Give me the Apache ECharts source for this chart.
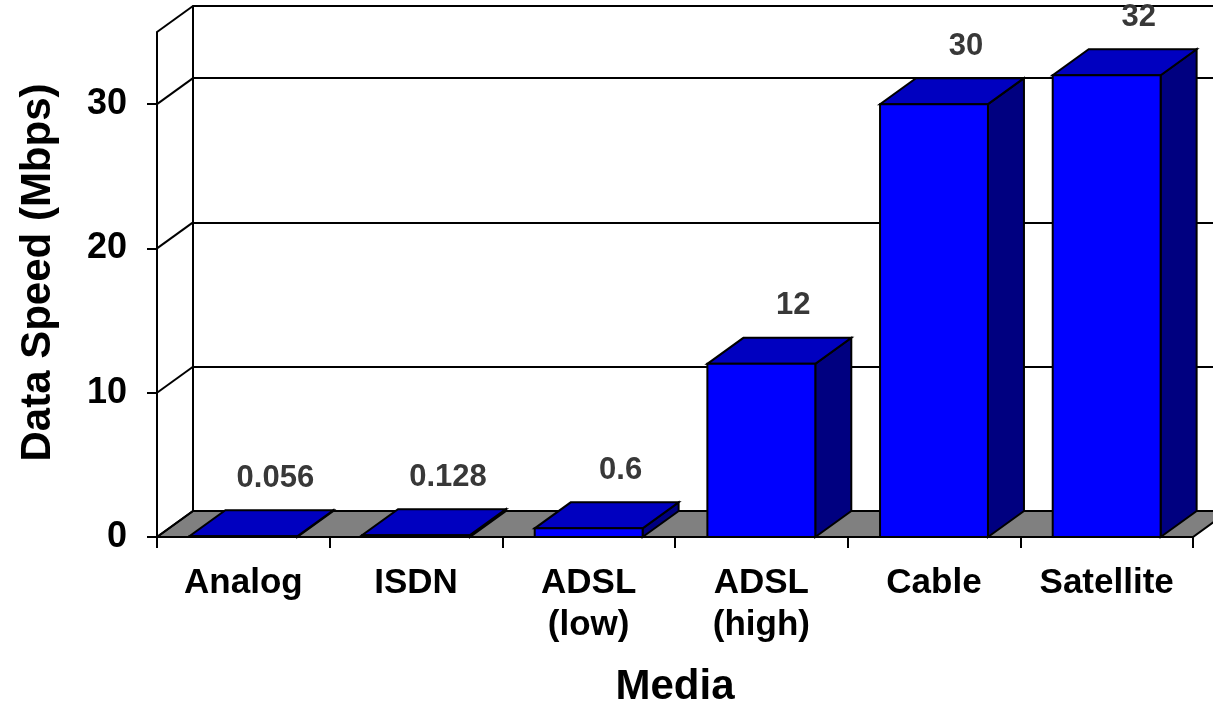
<!DOCTYPE html>
<html>
<head>
<meta charset="utf-8">
<title>Data Speed by Media</title>
<script src="https://cdn.jsdelivr.net/npm/echarts@6/dist/echarts.min.js"></script>
<style>
  html, body { margin: 0; padding: 0; background: #ffffff; }
  #chart { width: 1213px; height: 701px; }
</style>
</head>
<body>
<div id="chart"></div>
<script>
// Data
const categories = ['Analog', 'ISDN', 'ADSL\n(low)', 'ADSL\n(high)', 'Cable', 'Satellite'];
const speeds = [0.056, 0.128, 0.6, 12, 30, 32];
const yTicks = [0, 10, 20, 30];
const yMax = 35;
const yStep = 10;

// Styling constants
const FONT = '"Liberation Sans", Arial, Helvetica, sans-serif';
const DX = 36;    // horizontal depth offset of the 3D box
const DY = -26;   // vertical depth offset of the 3D box
const LINE_W = 2;
const CHART_W = 1213, CHART_H = 701;
const G = { left: 157, top: 32, right: 20, bottom: 164 };
const plotW = CHART_W - G.left - G.right;
const plotH = CHART_H - G.top - G.bottom;

// Floor and left side wall of the 3D box
function renderFrame(params, api) {
  const cs = params.coordSys;
  const L = cs.x, R = cs.x + cs.width;
  const y0 = api.coord([0, 0])[1];
  const children = [{
    type: 'polygon',
    shape: { points: [[L, y0], [R, y0], [R + DX, y0 + DY], [L + DX, y0 + DY]] },
    style: { fill: '#808080', stroke: '#000', lineWidth: LINE_W, lineJoin: 'miter' }
  }];
  yTicks.concat([yMax]).forEach(function (v) {
    const y = api.coord([0, v])[1];
    children.push({
      type: 'line',
      shape: { x1: L, y1: y, x2: L + DX, y2: y + DY },
      style: { stroke: '#000', lineWidth: LINE_W }
    });
  });
  return { type: 'group', children: children };
}

// One 3D bar: side face, top face, front face and value label
function renderBar(params, api) {
  const i = api.value(0), v = api.value(1);
  const base = api.coord([i, 0]);
  const top = api.coord([i, v]);
  const w = api.size([1, 0])[0] * 0.625;
  const x0 = base[0] - w / 2, x1 = base[0] + w / 2;
  const yb = base[1], yt = top[1];
  const edge = { stroke: '#000', lineWidth: LINE_W, lineJoin: 'miter' };
  return {
    type: 'group',
    children: [
      { type: 'polygon',
        shape: { points: [[x1, yb], [x1 + DX, yb + DY], [x1 + DX, yt + DY], [x1, yt]] },
        style: Object.assign({ fill: '#000080' }, edge) },
      { type: 'polygon',
        shape: { points: [[x0, yt], [x1, yt], [x1 + DX, yt + DY], [x0 + DX, yt + DY]] },
        style: Object.assign({ fill: '#0000C0' }, edge) },
      { type: 'rect',
        shape: { x: x0, y: yt, width: w, height: Math.max(yb - yt, 0.5) },
        style: Object.assign({ fill: '#0000FF' }, edge) },
      { type: 'text',
        x: base[0] + 32, y: yt - 58,
        style: {
          text: String(v), align: 'center', verticalAlign: 'middle',
          font: 'bold 31px ' + FONT, fill: '#383838'
        } }
    ]
  };
}

const chart = echarts.init(document.getElementById('chart'), null, { renderer: 'canvas' });

chart.setOption({
  animation: false,
  backgroundColor: '#ffffff',
  grid: [
    { left: G.left, top: G.top, width: plotW, height: plotH, containLabel: false, outerBoundsMode: 'none' },
    { left: G.left + DX, top: G.top + DY, width: plotW, height: plotH, containLabel: false, outerBoundsMode: 'none' }
  ],
  xAxis: [
    {
      gridIndex: 0,
      type: 'category',
      data: categories,
      boundaryGap: true,
      axisLine: { show: true, lineStyle: { color: '#000', width: LINE_W } },
      axisTick: { show: true, length: 11, lineStyle: { color: '#000', width: LINE_W } },
      axisLabel: {
        interval: 0, margin: 25, color: '#000',
        fontFamily: FONT, fontWeight: 'bold', fontSize: 35, lineHeight: 42
      },
      splitLine: { show: false },
      name: 'Media',
      nameLocation: 'middle',
      nameGap: 129,
      nameTextStyle: { color: '#000', fontFamily: FONT, fontWeight: 'bold', fontSize: 42 }
    },
    { gridIndex: 1, type: 'category', data: categories, show: false }
  ],
  yAxis: [
    {
      gridIndex: 0,
      type: 'value',
      min: 0, max: yMax, interval: yStep,
      axisLine: { show: true, lineStyle: { color: '#000', width: LINE_W } },
      axisTick: { show: true, length: 10, customValues: yTicks, lineStyle: { color: '#000', width: LINE_W } },
      axisLabel: {
        customValues: yTicks, margin: 30, color: '#000',
        fontFamily: FONT, fontWeight: 'bold', fontSize: 36
      },
      splitLine: { show: false },
      name: 'Data Speed (Mbps)',
      nameLocation: 'middle',
      nameGap: 98,
      nameTextStyle: {
        color: '#000', fontFamily: FONT, fontWeight: 'bold', fontSize: 42,
        padding: [0, 0, 0, 24]
      }
    },
    {
      // back wall with its gridlines
      gridIndex: 1,
      type: 'value',
      min: 0, max: yMax, interval: yStep,
      axisLine: { show: true, lineStyle: { color: '#000', width: LINE_W } },
      axisTick: { show: false },
      axisLabel: { show: false },
      splitLine: { show: true, lineStyle: { color: '#000', width: LINE_W } }
    }
  ],
  series: [
    {
      type: 'custom',
      xAxisIndex: 0, yAxisIndex: 0,
      clip: false,
      silent: true,
      z: 2,
      renderItem: renderFrame,
      data: [[0, 0]]
    },
    {
      type: 'custom',
      xAxisIndex: 0, yAxisIndex: 0,
      clip: false,
      z: 3,
      renderItem: renderBar,
      data: speeds.map(function (v, i) { return [i, v]; })
    }
  ]
});
</script>
</body>
</html>
